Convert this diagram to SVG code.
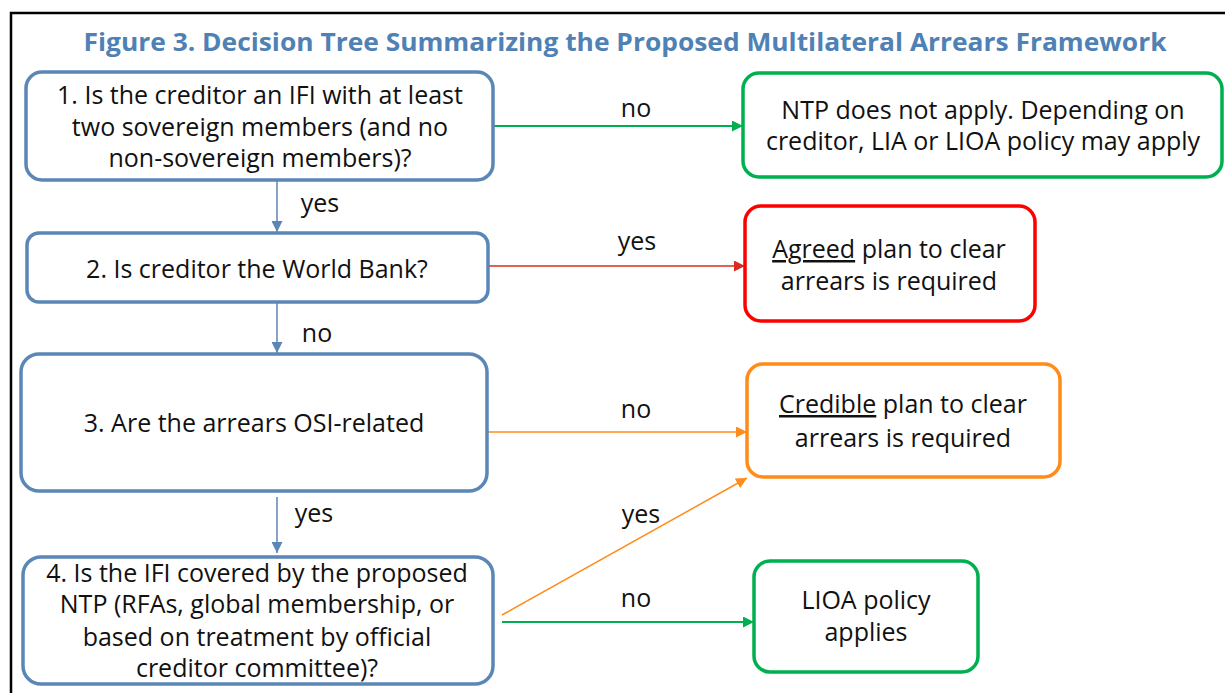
<svg xmlns="http://www.w3.org/2000/svg" width="1225" height="693" viewBox="0 0 1225 693">
<style>
.t{font-family:"Open Sans","Noto Sans","Liberation Sans",sans-serif;font-size:25px;fill:#111;text-anchor:middle}
.title{font-family:"Open Sans","Noto Sans","Liberation Sans",sans-serif;font-size:25px;font-weight:bold;fill:#4f81b4;text-anchor:middle}
.q{fill:#fff;stroke:#5b87b6;stroke-width:3.5}
.g{fill:#fff;stroke:#00b050;stroke-width:3.5}
.r{fill:#fff;stroke:#ff0000;stroke-width:3.5}
.o{fill:#fff;stroke:#ff8c1a;stroke-width:3.5}
.u{text-decoration:underline}
</style>
<defs>
<marker id="ab" markerUnits="userSpaceOnUse" markerWidth="12" markerHeight="11" refX="11" refY="5.5" orient="auto"><path d="M0,0 L11,5.5 L0,11 z" fill="#5b87b6"/></marker>
<marker id="ag" markerUnits="userSpaceOnUse" markerWidth="12" markerHeight="11" refX="11" refY="5.5" orient="auto"><path d="M0,0 L11,5.5 L0,11 z" fill="#00b050"/></marker>
<marker id="ar" markerUnits="userSpaceOnUse" markerWidth="12" markerHeight="11" refX="11" refY="5.5" orient="auto"><path d="M0,0 L11,5.5 L0,11 z" fill="#d92b1f"/></marker>
<marker id="ao" markerUnits="userSpaceOnUse" markerWidth="12" markerHeight="11" refX="11" refY="5.5" orient="auto"><path d="M0,0 L11,5.5 L0,11 z" fill="#ff8c1a"/></marker>
</defs>
<rect width="1225" height="693" fill="#fff"/>
<path d="M11,694 L11,13 L1226,13" fill="none" stroke="#000" stroke-width="2.5"/>
<text class="title" x="625" y="51" textLength="1083" lengthAdjust="spacingAndGlyphs">Figure 3. Decision Tree Summarizing the Proposed Multilateral Arrears Framework</text>

<g id="connectors" fill="none">
<line x1="277" y1="180" x2="277" y2="232" stroke="#5b87b6" stroke-width="1.5" marker-end="url(#ab)"/>
<line x1="277" y1="302" x2="277" y2="353" stroke="#5b87b6" stroke-width="1.5" marker-end="url(#ab)"/>
<line x1="277" y1="497" x2="277" y2="553" stroke="#5b87b6" stroke-width="1.5" marker-end="url(#ab)"/>
<line x1="493" y1="126" x2="743" y2="126" stroke="#00b050" stroke-width="2" marker-end="url(#ag)"/>
<line x1="488" y1="266" x2="745" y2="266" stroke="#d92b1f" stroke-width="1.5" marker-end="url(#ar)"/>
<line x1="487" y1="432" x2="747" y2="432" stroke="#ff8c1a" stroke-width="1.5" marker-end="url(#ao)"/>
<line x1="502" y1="615" x2="747" y2="478" stroke="#ff8c1a" stroke-width="1.5" marker-end="url(#ao)"/>
<line x1="502" y1="622" x2="754" y2="622" stroke="#00b050" stroke-width="2" marker-end="url(#ag)"/>
<text class="t" x="320" y="212" stroke="none">yes</text>
<text class="t" x="317" y="342" stroke="none">no</text>
<text class="t" x="314" y="522" stroke="none">yes</text>
<text class="t" x="636" y="117" stroke="none">no</text>
<text class="t" x="637" y="250" stroke="none">yes</text>
<text class="t" x="636" y="418" stroke="none">no</text>
<text class="t" x="641" y="523" stroke="none">yes</text>
<text class="t" x="636" y="607" stroke="none">no</text>
</g>

<g id="q1">
<rect class="q" x="26" y="72" width="467" height="108" rx="16"/>
<text class="t" x="260" y="104">1. Is the creditor an IFI with at least</text>
<text class="t" x="260" y="136">two sovereign members (and no</text>
<text class="t" x="260" y="167">non-sovereign members)?</text>
</g>
<g id="q2">
<rect class="q" x="27" y="233" width="461" height="69" rx="12"/>
<text class="t" x="257" y="278">2. Is creditor the World Bank?</text>
</g>
<g id="q3">
<rect class="q" x="21" y="354" width="466" height="137" rx="18"/>
<text class="t" x="254" y="432">3. Are the arrears OSI-related</text>
</g>
<g id="q4">
<rect class="q" x="23" y="557" width="470" height="127" rx="18"/>
<text class="t" x="257" y="582">4. Is the IFI covered by the proposed</text>
<text class="t" x="257" y="613">NTP (RFAs, global membership, or</text>
<text class="t" x="257" y="646">based on treatment by official</text>
<text class="t" x="257" y="677">creditor committee)?</text>
</g>
<g id="ntp">
<rect class="g" x="743" y="73" width="479" height="104" rx="16"/>
<text class="t" x="983" y="119">NTP does not apply. Depending on</text>
<text class="t" x="983" y="150">creditor, LIA or LIOA policy may apply</text>
</g>
<g id="agreed">
<rect class="r" x="745" y="206" width="290" height="115" rx="16"/>
<text class="t" x="889" y="258"><tspan class="u">Agreed</tspan> plan to clear</text>
<text class="t" x="889" y="290">arrears is required</text>
</g>
<g id="credible">
<rect class="o" x="747" y="364" width="313" height="113" rx="16"/>
<text class="t" x="903" y="413"><tspan class="u">Credible</tspan> plan to clear</text>
<text class="t" x="903" y="447">arrears is required</text>
</g>
<g id="lioa">
<rect class="g" x="754" y="561" width="224" height="111" rx="16"/>
<text class="t" x="866" y="609">LIOA policy</text>
<text class="t" x="866" y="641">applies</text>
</g>
</svg>
